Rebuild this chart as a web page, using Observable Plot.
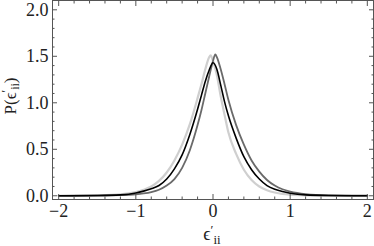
<!DOCTYPE html>
<html><head><meta charset="utf-8">
<script src="https://cdn.jsdelivr.net/npm/d3@7"></script>
<script src="https://cdn.jsdelivr.net/npm/@observablehq/plot@0.6"></script>
<style>
body{margin:0;background:#fff}
</style>
</head><body><div id="chart"></div>
<script>
// Series: x positions and density values
const blackX = [-2, -1.5, -1.2, -1.0, -0.9, -0.8, -0.7, -0.6, -0.5, -0.4, -0.3, -0.2, -0.15, -0.1, -0.05, 0, 0.05, 0.1, 0.15, 0.2, 0.3, 0.4, 0.5, 0.6, 0.7, 0.8, 0.9, 1.0, 1.2, 1.5, 2];
const blackY = [0.0, 0.003, 0.01, 0.03, 0.05, 0.075, 0.11, 0.18, 0.29, 0.44, 0.66, 0.93, 1.08, 1.23, 1.35, 1.43, 1.36, 1.19, 1.01, 0.86, 0.62, 0.42, 0.28, 0.18, 0.11, 0.07, 0.045, 0.028, 0.01, 0.003, 0.0];

const darkX = [-2, -1.5, -1.2, -1.0, -0.9, -0.8, -0.7, -0.6, -0.5, -0.4, -0.3, -0.2, -0.15, -0.1, -0.05, 0, 0.03, 0.05, 0.1, 0.15, 0.2, 0.3, 0.4, 0.5, 0.6, 0.7, 0.8, 0.9, 1.0, 1.2, 1.5, 2];
const darkY = [0.0, 0.002, 0.006, 0.015, 0.025, 0.04, 0.065, 0.11, 0.18, 0.30, 0.49, 0.76, 0.92, 1.1, 1.28, 1.45, 1.52, 1.49, 1.36, 1.2, 1.03, 0.76, 0.55, 0.38, 0.26, 0.17, 0.11, 0.07, 0.045, 0.018, 0.005, 0.001];

const lightX = [-2, -1.5, -1.2, -1.0, -0.9, -0.8, -0.7, -0.6, -0.5, -0.4, -0.3, -0.2, -0.15, -0.1, -0.05, -0.03, 0, 0.05, 0.1, 0.15, 0.2, 0.3, 0.4, 0.5, 0.6, 0.7, 0.8, 0.9, 1.0, 1.2, 1.5, 2];
const lightY = [0.0, 0.005, 0.015, 0.04, 0.065, 0.1, 0.16, 0.25, 0.38, 0.55, 0.77, 1.05, 1.2, 1.36, 1.49, 1.51, 1.45, 1.3, 1.07, 0.87, 0.68, 0.45, 0.28, 0.17, 0.1, 0.06, 0.035, 0.02, 0.012, 0.005, 0.002, 0.0];

const xMajor = [-2, -1, 0, 1, 2];
const xMinor = [-1.8, -1.6, -1.4, -1.2, -0.8, -0.6, -0.4, -0.2, 0.2, 0.4, 0.6, 0.8, 1.2, 1.4, 1.6, 1.8];
const yMajor = [0, 0.5, 1.0, 1.5, 2.0];
const yMinor = [0.1, 0.2, 0.3, 0.4, 0.6, 0.7, 0.8, 0.9, 1.1, 1.2, 1.3, 1.4, 1.6, 1.7, 1.8, 1.9];

const rows = (xs, ys) => xs.map((x, i) => ({x, y: ys[i]}));
const fmtX = d => d < 0 ? "\u2212" + (-d) : String(d);
const fmtY = d => d.toFixed(1);
const none = () => "";
const tickCol = "#555";
const serif = "'Liberation Serif', serif";

const chart = Plot.plot({
  width: 374, height: 246,
  marginLeft: 52, marginRight: 1, marginTop: 0, marginBottom: 47,
  x: {domain: [-2.08, 2.08]},
  y: {domain: [-0.04, 2.1]},
  style: {background: "#fff", fontFamily: serif, fontSize: "18px"},
  marks: [
    Plot.line(rows(lightX, lightY), {x: "x", y: "y", stroke: "#cfcfcf", strokeWidth: 2.2, curve: "monotone-x"}),
    Plot.line(rows(darkX, darkY), {x: "x", y: "y", stroke: "#6a6a6a", strokeWidth: 1.8, curve: "monotone-x"}),
    Plot.line(rows(blackX, blackY), {x: "x", y: "y", stroke: "#000", strokeWidth: 1.6, curve: "monotone-x"}),
    Plot.frame({stroke: tickCol}),
    // tick labels
    Plot.axisX(xMajor, {anchor: "bottom", tickSize: 0, tickPadding: 5, tickFormat: fmtX, label: null}),
    Plot.axisY(yMajor, {anchor: "left", tickSize: 0, tickPadding: 4, tickFormat: fmtY, label: null}),
    // inward ticks on all four sides
    Plot.axisX(xMinor, {anchor: "bottom", tickSize: -2.5, tickFormat: none, label: null}),
    Plot.axisX(xMajor, {anchor: "top", tickSize: -5, tickFormat: none, label: null}),
    Plot.axisX(xMinor, {anchor: "top", tickSize: -2.5, tickFormat: none, label: null}),
    Plot.axisY(yMinor, {anchor: "left", tickSize: -2.5, tickFormat: none, label: null}),
    Plot.axisY(yMajor, {anchor: "right", tickSize: -5, tickFormat: none, label: null}),
    Plot.axisY(yMinor, {anchor: "right", tickSize: -2.5, tickFormat: none, label: null}),
    Plot.axisX(xMajor, {anchor: "bottom", tickSize: -5, tickFormat: none, label: null}),
    Plot.axisY(yMajor, {anchor: "left", tickSize: -5, tickFormat: none, label: null})
  ]
});

const svg = d3.select(chart);
svg.selectAll("g[aria-label$='axis tick']").attr("stroke", tickCol);
svg.selectAll("g[aria-label$='tick label']").attr("stroke", "none").attr("fill", "#222");

// x-axis label: ϵ′ii
const xl = svg.append("text").attr("x", 212).attr("y", 240).attr("text-anchor", "middle")
  .attr("fill", "#222").attr("style", "font-family:'Liberation Serif',serif;font-size:18px");
xl.append("tspan").text("\u03f5");
xl.append("tspan").attr("style", "font-size:13px").attr("dy", -6).text("\u2032");
xl.append("tspan").attr("style", "font-size:13px").attr("dy", 10).text("ii");
// y-axis label: P(ϵ′ii)
const yl = svg.append("text").attr("transform", "translate(16,96) rotate(-90)").attr("text-anchor", "middle")
  .attr("fill", "#222").attr("style", "font-family:'Liberation Serif',serif;font-size:17px");
yl.append("tspan").text("P(\u03f5");
yl.append("tspan").attr("style", "font-size:12px").attr("dy", -6).text("\u2032");
yl.append("tspan").attr("style", "font-size:12px").attr("dy", 9).text("ii");
yl.append("tspan").attr("dy", -3).text(")");

document.getElementById("chart").appendChild(chart);
</script>
</body></html>
